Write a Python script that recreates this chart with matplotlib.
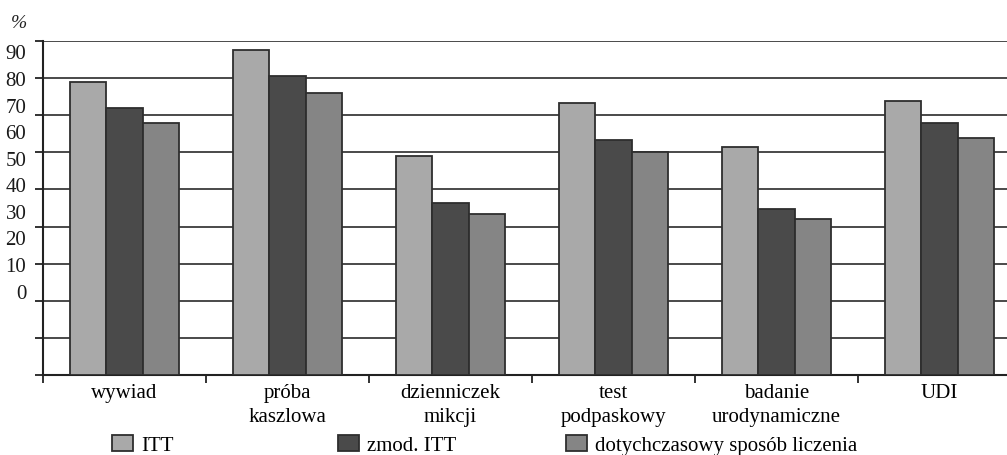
import numpy as np
import matplotlib
matplotlib.use("Agg")
import matplotlib.pyplot as plt
from matplotlib.patches import Patch

plt.rcParams['font.family'] = ['Liberation Serif', 'DejaVu Serif']

# Data
categories = ["wywiad", "próba\nkaszlowa", "dzienniczek\nmikcji",
              "test\npodpaskowy", "badanie\nurodynamiczne", "UDI"]
itt = [78.9, 87.6, 58.9, 73.3, 61.4, 73.8]
zmod_itt = [71.9, 80.6, 46.3, 63.3, 44.7, 67.9]
dotychczasowy = [67.9, 76.0, 43.4, 60.2, 42.0, 63.9]
series_names = ["ITT", "zmod. ITT", "dotychczasowy sposób liczenia"]
y_labels = [0, 10, 20, 30, 40, 50, 60, 70, 80, 90]

colors = ["#a9a9a9", "#4a4a4a", "#858585"]
edge = "#2e2e2e"
W, H = 1007, 456
FS = 15

fig = plt.figure(figsize=(W / 100, H / 100), dpi=100, facecolor="white")
pos = [43 / W, 1 - 376 / H, (6 * 163) / W, (376 - 42) / H]
ax = fig.add_axes(pos)

x = np.arange(len(categories))
bw = 0.221
for i, vals in enumerate([itt, zmod_itt, dotychczasowy]):
    ax.bar(x + (i - 1) * bw, vals, width=bw, color=colors[i],
           edgecolor=edge, linewidth=1.3, zorder=3)

ax.set_xlim(-0.5, len(categories) - 0.5)
ax.set_ylim(0, 90)

# horizontal grid every 10 units, ticks out on the left
ax.set_yticks(np.arange(0, 91, 10))
ax.set_yticklabels([])
ax.tick_params(axis="y", direction="out", length=5.5, width=1.3, color="#222222")
ax.yaxis.grid(True, color="#4a4a4a", linewidth=1.4, zorder=0)

# category labels centred, separators as minor ticks
ax.set_xticks(x)
ax.set_xticklabels(categories, fontsize=FS, linespacing=1.35)
ax.tick_params(axis="x", which="major", length=0, pad=6)
ax.set_xticks(np.arange(-0.5, len(categories), 1.0), minor=True)
ax.tick_params(axis="x", which="minor", direction="out", length=5.5,
               width=1.3, color="#222222")

for side in ["top", "right"]:
    ax.spines[side].set_visible(False)
ax.spines["left"].set_color("#222222")
ax.spines["left"].set_linewidth(1.5)
ax.spines["bottom"].set_color("#222222")
ax.spines["bottom"].set_linewidth(1.5)

# value labels on their own scale along the left edge
lab = fig.add_axes(pos, frameon=False)
lab.set_ylim(-31.8, 93.95)
lab.set_yticks(y_labels)
lab.set_yticklabels([str(v) for v in y_labels], fontsize=FS, color="#1a1a1a")
lab.tick_params(axis="y", length=0, pad=12)
lab.set_xticks([])
lab.patch.set_visible(False)

fig.text(11 / W, 1 - 23 / H, "%", fontsize=14, style="italic",
         va="center", ha="left", color="#222222")

# legend entries spread along the bottom
for name, col, lx in zip(series_names, colors, [112, 338, 566]):
    fig.legend(handles=[Patch(facecolor=col, edgecolor=edge, linewidth=1.3)],
               labels=[name], loc="center left",
               bbox_to_anchor=(lx / W, 1 - 446 / H), frameon=False,
               fontsize=FS, handlelength=1.0, handleheight=0.85,
               handletextpad=0.4, borderpad=0, borderaxespad=0)

fig.savefig("out.png", dpi=100, facecolor="white")
